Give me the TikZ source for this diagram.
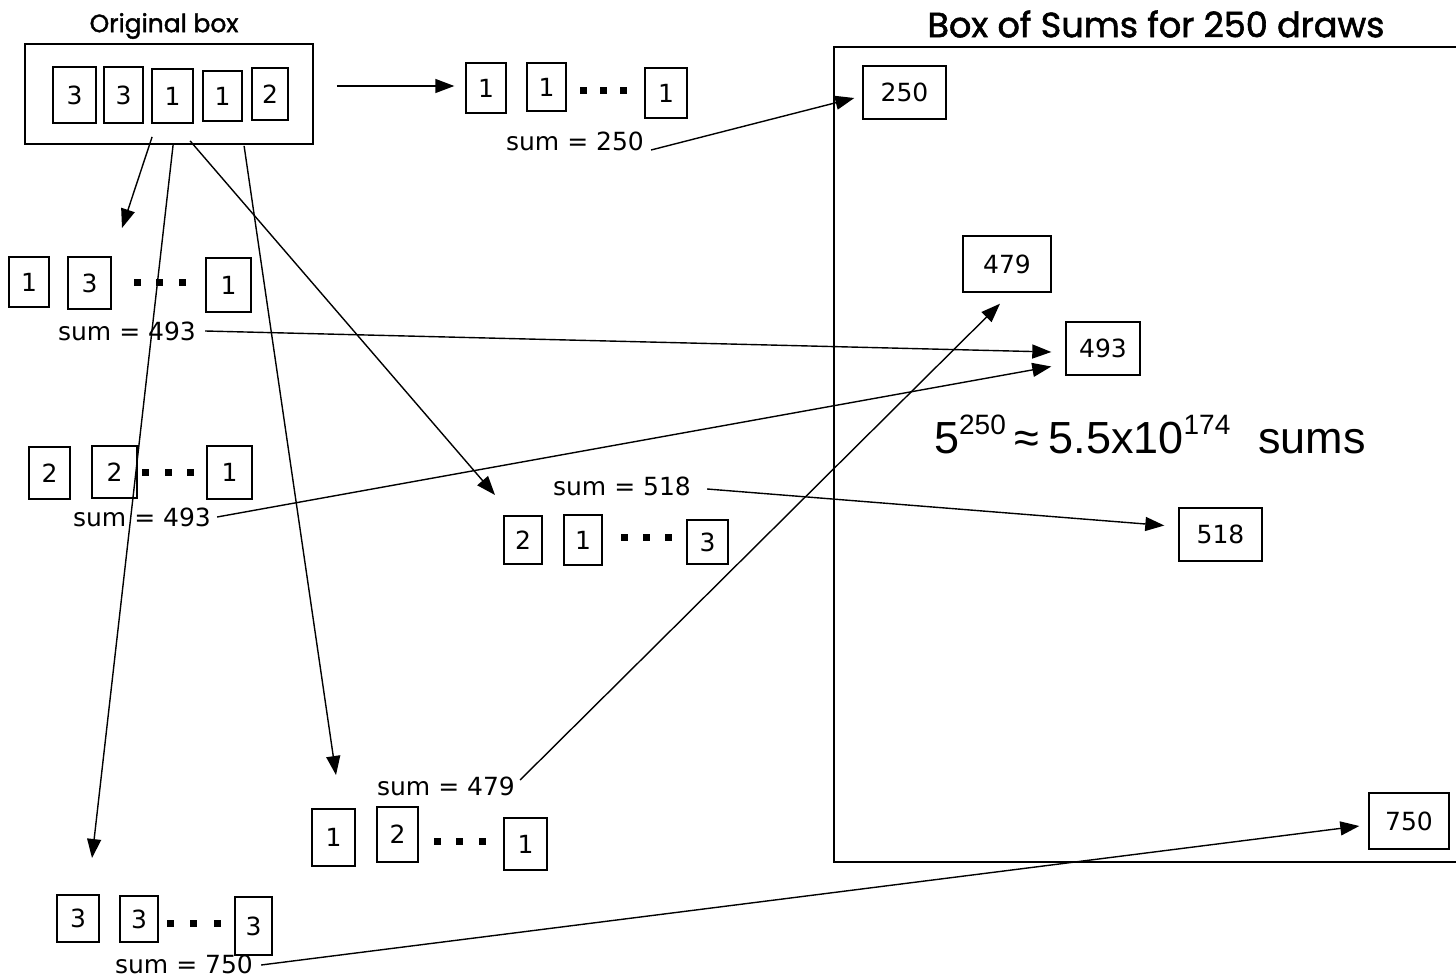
\documentclass[tikz,border=0pt]{standalone}
\usepackage{fontspec}
\setmainfont{DejaVu Sans}
\newfontfamily\numfont{DejaVu Sans}
\newfontfamily\titlefont[FakeBold=1.6]{Poppins}
\newfontfamily\formfont{Liberation Sans}
\usetikzlibrary{arrows.meta}

\tikzset{
  card/.style={draw, line width=1.4pt, inner sep=0pt, font=\numfont\fontsize{25}{25}\selectfont},
  frame/.style={draw, line width=1.8pt, inner sep=0pt},
  dotmark/.style={fill, rectangle, minimum size=7pt, inner sep=0pt},
  sumlabel/.style={inner sep=0pt, font=\numfont\fontsize{25}{25}\selectfont},
  arr/.style={line width=1.4pt, -{Triangle[length=19pt,width=14pt]}},
  heading/.style={inner sep=0pt},
}

\begin{document}
\begin{tikzpicture}[x=1pt,y=-1pt]
\useasboundingbox (0,0) rectangle (1456,979);

% --- original box of tickets ---
\node[heading, font=\titlefont\fontsize{25}{25}\selectfont] (otitle) at (164,26) {Original box};
\node[frame, minimum width=288pt, minimum height=100pt] (ob) at (169,94) {};
\node[card, minimum width=43pt, minimum height=56pt] (o1) at (74.5,95) {3};
\node[card, minimum width=39pt, minimum height=56pt] (o2) at (123.5,95) {3};
\node[card, minimum width=41pt, minimum height=54pt] (o3) at (172.5,96) {1};
\node[card, minimum width=39pt, minimum height=50pt] (o4) at (222.5,96) {1};
\node[card, minimum width=36pt, minimum height=52pt] (o5) at (270,94) {2};

% --- draw sequence: all ones ---
\node[card, minimum width=40pt, minimum height=50pt] (t1) at (486,88) {1};
\node[card, minimum width=39pt, minimum height=48pt] (t2) at (546.5,87) {1};
\node[dotmark] (td1) at (583,91) {};
\node[dotmark] (td2) at (603,91) {};
\node[dotmark] (td3) at (623,91) {};
\node[card, minimum width=42pt, minimum height=50pt] (t3) at (666,93) {1};
\node[sumlabel] (s250) at (575,141) {sum = 250};

% --- draw sequence with sum 493 (first) ---
\node[card, minimum width=40pt, minimum height=50pt] (a1) at (29,282) {1};
\node[card, minimum width=43pt, minimum height=52pt] (a2) at (89.5,283) {3};
\node[dotmark] (ad1) at (137,282) {};
\node[dotmark] (ad2) at (159,282) {};
\node[dotmark] (ad3) at (182,282) {};
\node[card, minimum width=45pt, minimum height=54pt] (a3) at (228.5,285) {1};
\node[sumlabel] (sa) at (127,331) {sum = 493};

% --- draw sequence with sum 493 (second) ---
\node[card, minimum width=41pt, minimum height=52pt] (b1) at (49.5,473) {2};
\node[card, minimum width=45pt, minimum height=52pt] (b2) at (114.5,472) {2};
\node[dotmark] (bd1) at (145,472) {};
\node[dotmark] (bd2) at (168,472) {};
\node[dotmark] (bd3) at (190,472) {};
\node[card, minimum width=45pt, minimum height=53pt] (b3) at (229.5,472.5) {1};
\node[sumlabel] (sb) at (142,517) {sum = 493};

% --- draw sequence with sum 518 ---
\node[sumlabel] (sc) at (622,486) {sum = 518};
\node[card, minimum width=38pt, minimum height=48pt] (c1) at (523,540) {2};
\node[card, minimum width=38pt, minimum height=50pt] (c2) at (583,540) {1};
\node[dotmark] (cd1) at (624,537) {};
\node[dotmark] (cd2) at (646,537) {};
\node[dotmark] (cd3) at (668,537) {};
\node[card, minimum width=41pt, minimum height=44pt] (c3) at (707.5,542) {3};

% --- draw sequence with sum 479 ---
\node[sumlabel] (sd) at (446,786) {sum = 479};
\node[card, minimum width=43pt, minimum height=57pt] (d1) at (333.5,837.5) {1};
\node[card, minimum width=41pt, minimum height=55pt] (d2) at (397.5,834.5) {2};
\node[dotmark] (dd1) at (437,841) {};
\node[dotmark] (dd2) at (459,841) {};
\node[dotmark] (dd3) at (482,841) {};
\node[card, minimum width=43pt, minimum height=52pt] (d3) at (525.5,844) {1};

% --- draw sequence: all threes ---
\node[card, minimum width=42pt, minimum height=47pt] (e1) at (78,918.5) {3};
\node[card, minimum width=38pt, minimum height=46pt] (e2) at (139,919) {3};
\node[dotmark] (ed1) at (170,923) {};
\node[dotmark] (ed2) at (193,923) {};
\node[dotmark] (ed3) at (217,923) {};
\node[card, minimum width=37pt, minimum height=58pt] (e3) at (253.5,926) {3};
\node[sumlabel] (se) at (184,964) {sum = 750};

% --- box of sums ---
\node[heading, font=\titlefont\fontsize{35}{35}\selectfont] (stitle) at (1156,24) {Box of Sums for 250 draws};
\coordinate (bxtr) at (1456,47);
\coordinate (bxtl) at (834,47);
\coordinate (bxbl) at (834,862);
\coordinate (bxbr) at (1456,862);
\draw[line width=1.8pt] (bxtr) -- (bxtl) -- (bxbl) -- (bxbr);

\node[card, minimum width=83pt, minimum height=53pt] (r250) at (904.5,92.5) {250};
\node[card, minimum width=88pt, minimum height=56pt] (r479) at (1007,264) {479};
\node[card, minimum width=74pt, minimum height=53pt] (r493) at (1103,348.5) {493};
\node[card, minimum width=83pt, minimum height=53pt] (r518) at (1220.5,534.5) {518};
\node[card, minimum width=80pt, minimum height=56pt] (r750) at (1409,821) {750};

\node[heading, font=\formfont\fontsize{45}{45}\selectfont] (count) at (1150,434)
  {5\raisebox{0.42em}{\fontsize{28}{28}\selectfont 250}\hspace{9pt}≈\hspace{9pt}5.5x10\raisebox{0.42em}{\fontsize{28}{28}\selectfont 174}\hspace{28pt}sums};

% --- free ends of the draw arrows ---
\coordinate (ha) at (122,228);
\coordinate (he) at (92,858);
\coordinate (hc) at (495,495);
\coordinate (hd) at (336,775);

% --- arrows out of the original box ---
\draw[arr] ([shift={(23,-8)}]ob.east) -- ([shift={(-11,-2)}]t1.west);
\draw[arr] ([shift={(128,-8)}]ob.south west) -- (ha);
\draw[arr] ([shift={(149,0)}]ob.south west) -- (he);
\draw[arr] ([shift={(166,-4)}]ob.south west) -- (hc);
\draw[arr] ([shift={(220,1)}]ob.south west) -- (hd);

% --- arrows from each sum into the box of sums ---
\draw[arr] ([shift={(7,9)}]s250.east) -- ([shift={(-8,5.5)}]r250.west);
\draw[arr] ([shift={(9,0)}]sa.east) -- ([shift={(-14,3.5)}]r493.west);
\draw[arr] ([shift={(6,0)}]sb.east) -- ([shift={(-14,18)}]r493.west);
\draw[arr] ([shift={(16,3)}]sc.east) -- ([shift={(-14,-9)}]r518.west);
\draw[arr] ([shift={(5,-6)}]sd.east) -- ([shift={(-7,11)}]r479.south);
\draw[arr] ([shift={(8,1)}]se.east) -- ([shift={(-9,5)}]r750.west);
\end{tikzpicture}
\end{document}
